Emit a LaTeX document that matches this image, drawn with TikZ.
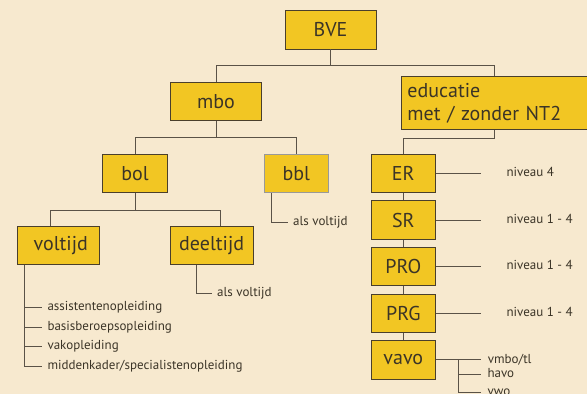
\documentclass[tikz,border=0pt]{standalone}
\usepackage{fontspec}
\setmainfont{PT Sans}
\usetikzlibrary{positioning,calc}
\definecolor{paper}{HTML}{F7E9CF}
\definecolor{boxfill}{HTML}{F2C623}
\definecolor{edge}{HTML}{4A3F2C}
\definecolor{ink}{HTML}{3B3427}
\definecolor{wire}{HTML}{5A5247}

\begin{document}
\begin{tikzpicture}[
  x=1pt,y=-1pt,
  font=\fontsize{13}{15}\selectfont,
  node distance=7.3pt,
  box/.style={draw=edge,fill=boxfill,line width=0.9pt,text=ink,inner sep=0pt,minimum height=38.4pt,minimum width=64.7pt,font=\fontsize{20}{23}\selectfont},
  greybox/.style={box,draw=black!40},
  lbl/.style={anchor=west,text=ink,inner sep=0pt,text height=9pt,text depth=2.5pt},
  ln/.style={draw=wire,line width=0.9pt}
]
\path[use as bounding box,fill=paper] (0,0) rectangle (587,394);
\clip (0,0) rectangle (587,394);

\node[box,minimum width=91pt,minimum height=39pt] (bve) at (330.5,29.5) {BVE};
\node[box,minimum width=90.6pt,minimum height=38pt] (mbo) at (216,101.7) {mbo};
\node[box,anchor=north west,align=left,text width=174pt,inner xsep=6pt,minimum height=53.3pt] (edu) at (401,76) {educatie\\met / zonder NT2};
\node[box] (bol) at (135,173.5) {bol};
\node[greybox] (bbl) at (296.3,173.5) {bbl};
\node[box,minimum width=82pt,minimum height=37.6pt] (voltijd) at (58.3,245.5) {\hspace{5pt}voltijd};
\node[box,minimum width=83.3pt,minimum height=37.6pt] (deeltijd) at (211.7,245.5) {deeltijd};
\node[box] (er) at (403.3,173.5) {ER};
\node[box,below=of er] (sr) {SR};
\node[box,below=of sr] (pro) {PRO};
\node[box,below=of pro] (prg) {PRG};
\node[box,below=of prg] (vavo) {vavo};

\node[lbl] (bblnote) at (293,222.5) {als voltijd};
\node[lbl] (deelnote) at (217,293.5) {als voltijd};
\node[lbl] (assist) at (47.3,307.3) {assistentenopleiding};
\node[lbl] (basis) at (47.3,327.3) {basisberoepsopleiding};
\node[lbl] (vak) at (47.3,346.7) {vakopleiding};
\node[lbl] (midden) at (47.3,366.7) {middenkader/specialistenopleiding};
\node[lbl,right=70.3pt of er] (niver) {niveau 4};
\node[lbl,right=70.3pt of sr] (nivsr) {niveau 1 - 4};
\node[lbl,right=70.3pt of pro] (nivpro) {niveau 1 - 4};
\node[lbl,right=70.3pt of prg] (nivprg) {niveau 1 - 4};
\node[lbl,right=51.6pt of vavo] (vmbo) {vmbo/tl};
\node[lbl] (havo) at (487.3,374) {havo};
\node[lbl] (vwo) at (487.3,392) {vwo};

\draw[ln] (bve.south) -- ++(0,16.2) coordinate (t1) -| (mbo.north);
\draw[ln] (t1) -| (edu.north);
\draw[ln] (mbo.south) -- ++(0,16.6) coordinate (t2) -| (bol.north);
\draw[ln] (t2) -| (bbl.north);
\draw[ln] (bol.south) -- ++(0,17) coordinate (t3) -| ([xshift=-8.3pt]voltijd.north);
\draw[ln] (t3) -| ([xshift=9pt]deeltijd.north);
\draw[ln] ([xshift=7.7pt]bbl.south west) |- ([xshift=-5pt]bblnote.west);
\draw[ln] ([xshift=-15.7pt]deeltijd.south) |- ([xshift=-5.3pt]deelnote.west);
\coordinate (spine) at ([xshift=7.7pt]voltijd.south west);
\draw[ln] (spine) |- ([xshift=-5.6pt]midden.west);
\foreach \n in {assist,basis,vak}
  \draw[ln] (spine |- \n.west) -- ([xshift=-5.6pt]\n.west);

\draw[ln] (edu.south) -- ++(0,8) -| (er.north);
\foreach \a/\b in {er/sr,sr/pro,pro/prg,prg/vavo}
  \draw[ln] (\a.south) -- (\b.north);
\foreach \n in {er,sr,pro,prg,vavo}
  \draw[ln] (\n.east) -- ++(45,0);
\draw[ln] ([xshift=22pt]vavo.east) |- ([xshift=-6.6pt]vwo.west);
\draw[ln] ([xshift=22pt]vavo.east |- havo.west) -- ([xshift=-6.6pt]havo.west);
\end{tikzpicture}
\end{document}
